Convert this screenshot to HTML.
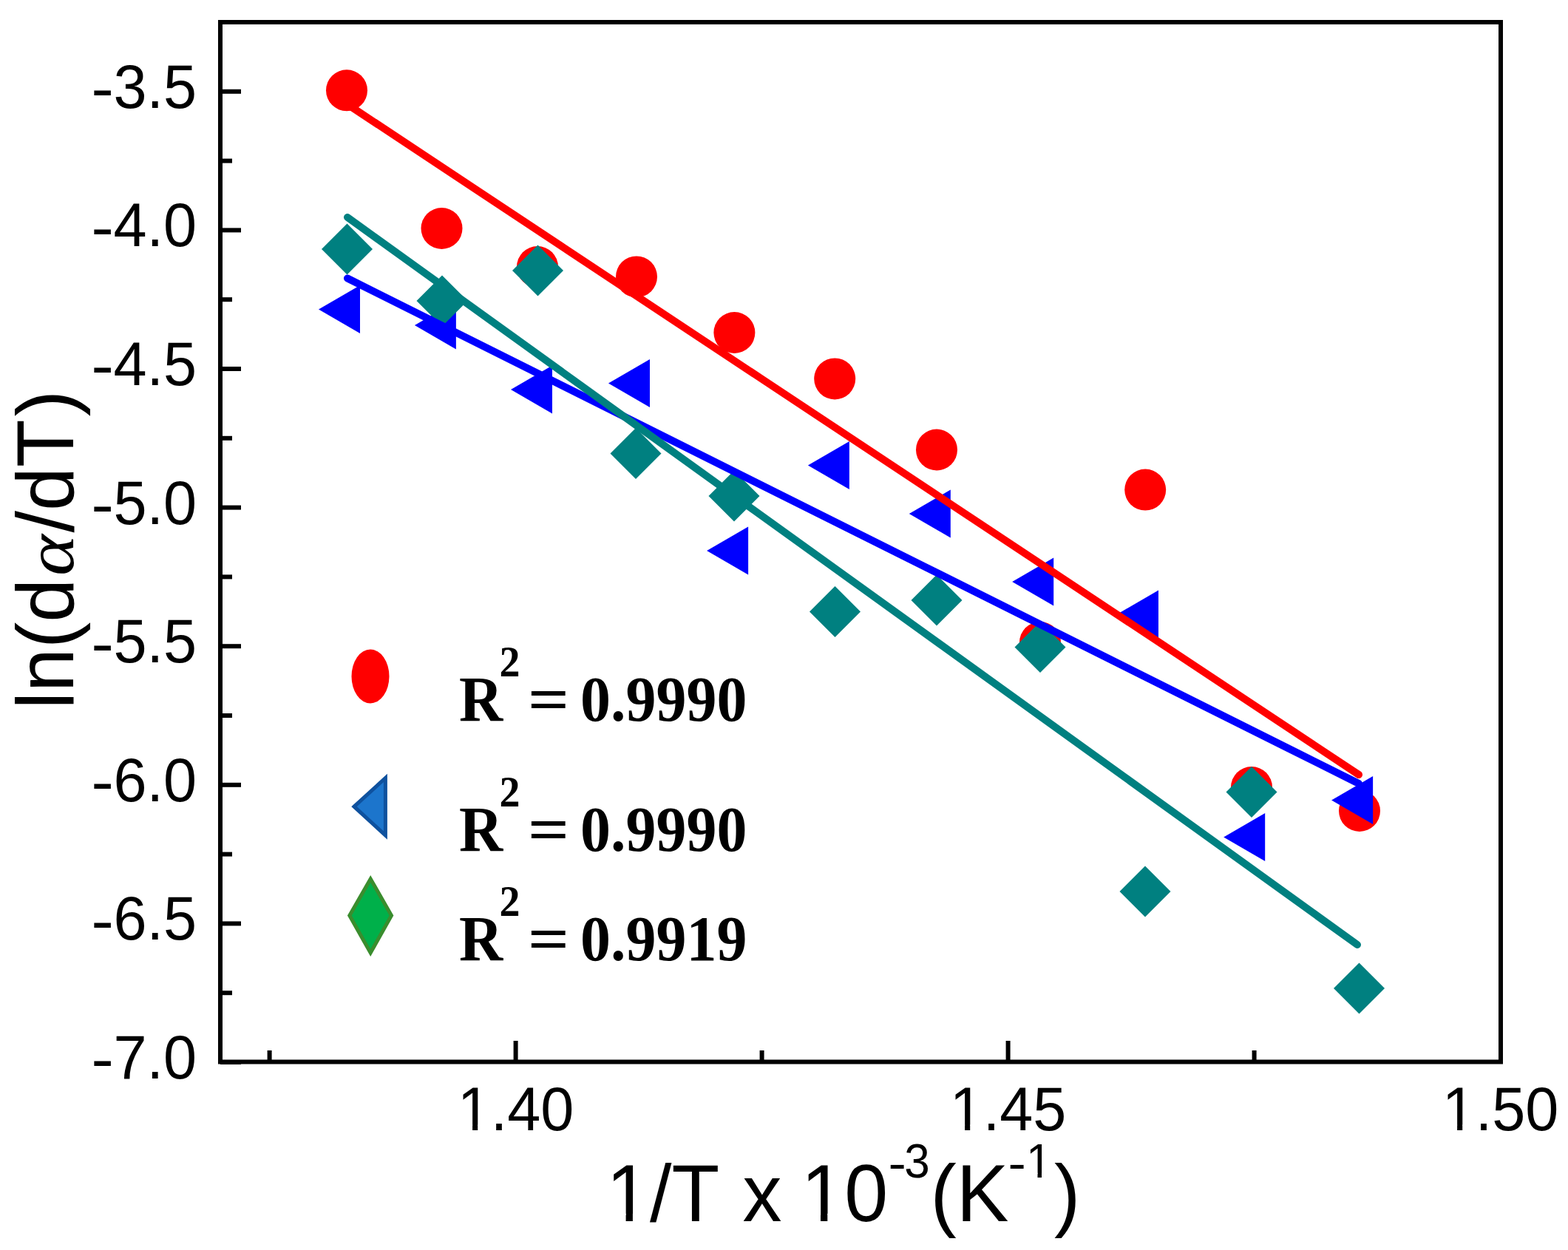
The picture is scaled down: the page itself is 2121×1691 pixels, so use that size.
<!DOCTYPE html><html><head><meta charset="utf-8"><title>ln(dα/dT) vs 1/T</title><style>
html,body{margin:0;padding:0;background:#fff;overflow:hidden;}svg{display:block;}
.s{font-family:"Liberation Sans",Arial,sans-serif;}
.b{font-family:"Liberation Serif","Times New Roman",serif;font-weight:bold;}
</style></head><body>
<svg width="2121" height="1691" viewBox="0 0 2121 1691">
<rect x="0" y="0" width="2121" height="1691" fill="#fff"/>
<g fill="#ff0000">
<circle cx="469" cy="122.3" r="28"/>
<circle cx="597.5" cy="309" r="28"/>
<circle cx="727" cy="361" r="28"/>
<circle cx="861" cy="374.4" r="28"/>
<circle cx="993.4" cy="450" r="28"/>
<circle cx="1129.2" cy="512.4" r="28"/>
<circle cx="1267" cy="608.5" r="28"/>
<circle cx="1407" cy="869" r="28"/>
<circle cx="1549.2" cy="662.6" r="28"/>
<circle cx="1693" cy="1065" r="28"/>
<circle cx="1839" cy="1097" r="28"/>
</g>
<g fill="#0000ff">
<polygon points="431.0,418.5 487.0,386.0 487.0,451.0"/>
<polygon points="560.9,440 616.9,407.5 616.9,472.5"/>
<polygon points="691.0,527 747.0,494.5 747.0,559.5"/>
<polygon points="823.0,518.5 879.0,486.0 879.0,551.0"/>
<polygon points="956.1,745 1012.1,712.5 1012.1,777.5"/>
<polygon points="1092.9,629.5 1148.9,597.0 1148.9,662.0"/>
<polygon points="1229.8,695 1285.8,662.5 1285.8,727.5"/>
<polygon points="1369.2,787 1425.2,754.5 1425.2,819.5"/>
<polygon points="1511.0,831 1567.0,798.5 1567.0,863.5"/>
<polygon points="1655.2,1132.5 1711.2,1100.0 1711.2,1165.0"/>
<polygon points="1801.1,1082.5 1857.1,1050.0 1857.1,1115.0"/>
</g>
<g fill="#008080">
<polygon points="469.5,302.5 504.0,337 469.5,371.5 435.0,337"/>
<polygon points="598,372.5 632.5,407 598,441.5 563.5,407"/>
<polygon points="727.5,331.5 762.0,366 727.5,400.5 693.0,366"/>
<polygon points="860,579.1 894.5,613.6 860,648.1 825.5,613.6"/>
<polygon points="993,636.5 1027.5,671 993,705.5 958.5,671"/>
<polygon points="1129.5,793.0 1164.0,827.5 1129.5,862.0 1095.0,827.5"/>
<polygon points="1267,777.5 1301.5,812 1267,846.5 1232.5,812"/>
<polygon points="1407,841.1 1441.5,875.6 1407,910.1 1372.5,875.6"/>
<polygon points="1549,1171.5 1583.5,1206 1549,1240.5 1514.5,1206"/>
<polygon points="1693,1037.0 1727.5,1071.5 1693,1106.0 1658.5,1071.5"/>
<polygon points="1838.5,1302.5 1873.0,1337 1838.5,1371.5 1804.0,1337"/>
</g>
<g fill="none" stroke-width="10" stroke-linecap="round">
<line x1="470" y1="376.5" x2="1838" y2="1060" stroke="#0000ff"/>
<line x1="469" y1="140.5" x2="1838" y2="1048" stroke="#ff0000"/>
<line x1="470" y1="294" x2="1836" y2="1278" stroke="#008080"/>
</g>
<g stroke="#000" stroke-width="6" fill="none">
<rect x="298" y="30" width="1732" height="1406.5"/>
<line x1="298" y1="123.8" x2="326" y2="123.8"/>
<line x1="298" y1="311.4" x2="326" y2="311.4"/>
<line x1="298" y1="499.0" x2="326" y2="499.0"/>
<line x1="298" y1="686.6" x2="326" y2="686.6"/>
<line x1="298" y1="874.2" x2="326" y2="874.2"/>
<line x1="298" y1="1061.8" x2="326" y2="1061.8"/>
<line x1="298" y1="1249.4" x2="326" y2="1249.4"/>
<line x1="298" y1="1437.0" x2="326" y2="1437.0"/>
<line x1="298" y1="217.6" x2="314" y2="217.6"/>
<line x1="298" y1="405.2" x2="314" y2="405.2"/>
<line x1="298" y1="592.8" x2="314" y2="592.8"/>
<line x1="298" y1="780.4" x2="314" y2="780.4"/>
<line x1="298" y1="968.0" x2="314" y2="968.0"/>
<line x1="298" y1="1155.6" x2="314" y2="1155.6"/>
<line x1="298" y1="1343.2" x2="314" y2="1343.2"/>
<line x1="697.6" y1="1436.5" x2="697.6" y2="1408"/>
<line x1="1363.6" y1="1436.5" x2="1363.6" y2="1408"/>
<line x1="364.6" y1="1436.5" x2="364.6" y2="1421"/>
<line x1="1030.6" y1="1436.5" x2="1030.6" y2="1421"/>
<line x1="1696.6" y1="1436.5" x2="1696.6" y2="1421"/>
</g>
<g class="s" font-size="81" fill="#000">
<text transform="translate(266,145.8) scale(1,1.04)" text-anchor="end">3.5</text>
<text transform="translate(123.3,148.1) scale(1.14,1.04)">-</text>
<text transform="translate(266,333.4) scale(1,1.04)" text-anchor="end">4.0</text>
<text transform="translate(123.3,335.7) scale(1.14,1.04)">-</text>
<text transform="translate(266,521.0) scale(1,1.04)" text-anchor="end">4.5</text>
<text transform="translate(123.3,523.3) scale(1.14,1.04)">-</text>
<text transform="translate(266,708.6) scale(1,1.04)" text-anchor="end">5.0</text>
<text transform="translate(123.3,710.9) scale(1.14,1.04)">-</text>
<text transform="translate(266,896.2) scale(1,1.04)" text-anchor="end">5.5</text>
<text transform="translate(123.3,898.5) scale(1.14,1.04)">-</text>
<text transform="translate(266,1083.8) scale(1,1.04)" text-anchor="end">6.0</text>
<text transform="translate(123.3,1086.1) scale(1.14,1.04)">-</text>
<text transform="translate(266,1271.4) scale(1,1.04)" text-anchor="end">6.5</text>
<text transform="translate(123.3,1273.7) scale(1.14,1.04)">-</text>
<text transform="translate(266,1459.0) scale(1,1.04)" text-anchor="end">7.0</text>
<text transform="translate(123.3,1461.3) scale(1.14,1.04)">-</text>
<text transform="translate(697.6,1529) scale(1,1.04)" text-anchor="middle">1.40</text>
<text transform="translate(1363.6,1529) scale(1,1.04)" text-anchor="middle">1.45</text>
<text transform="translate(2029.6,1529) scale(1,1.04)" text-anchor="middle">1.50</text>
</g>
<text class="s" font-size="106" transform="translate(820,1651.5) scale(1,1.04)" fill="#000">1/T</text>
<text class="s" font-size="106" transform="translate(1004.6,1651.5) scale(1,1.04)" fill="#000">x</text>
<text class="s" font-size="106" transform="translate(1083.4,1651.5) scale(1,1.04)" fill="#000">10</text>
<text class="s" font-size="62" transform="translate(1223.2,1592.5) scale(1,1.04)" fill="#000">3</text>
<text class="s" font-size="62" transform="translate(1201.5,1595.5) scale(1.18,1.04)" fill="#000">-</text>
<text class="s" font-size="106" transform="translate(1258.5,1651.5) scale(1,1.04)" fill="#000">(K</text>
<text class="s" font-size="62" transform="translate(1363.5,1595.5) scale(1.18,1.04)" fill="#000">-</text>
<text class="s" font-size="62" transform="translate(1388,1592.5) scale(1,1.04)" fill="#000">1</text>
<text class="s" font-size="106" transform="translate(1426,1651.5) scale(1,1.04)" fill="#000">)</text>
<text class="s" font-size="106" transform="translate(98.7,959.5) rotate(-90) scale(1,1.04)" fill="#000">ln(d</text>
<text font-family="Liberation Serif,serif" font-style="italic" font-size="106" transform="translate(98.7,779) rotate(-90) scale(1,0.87)" fill="#000">α</text>
<text class="s" font-size="106" transform="translate(98.7,720.5) rotate(-90) scale(1,1.04)" fill="#000">/dT<tspan dx="4">)</tspan></text>
<rect x="623.6" y="1521.6" width="15.5" height="9.4" fill="#fff"/>
<rect x="646.2" y="1521.6" width="14.6" height="9.4" fill="#fff"/>
<rect x="1289.6" y="1521.6" width="15.5" height="9.4" fill="#fff"/>
<rect x="1312.2" y="1521.6" width="14.6" height="9.4" fill="#fff"/>
<rect x="1955.6" y="1521.6" width="15.5" height="9.4" fill="#fff"/>
<rect x="1978.2" y="1521.6" width="14.6" height="9.4" fill="#fff"/>
<rect x="1089.8" y="1641.8" width="20.2" height="11.7" fill="#fff"/>
<rect x="1119.3" y="1641.8" width="19.1" height="11.7" fill="#fff"/>
<rect x="1391.7" y="1586.8" width="11.8" height="7.7" fill="#fff"/>
<rect x="1409.0" y="1586.8" width="11.2" height="7.7" fill="#fff"/>
<rect x="826.4" y="1641.8" width="20.2" height="11.7" fill="#fff"/>
<rect x="855.9" y="1641.8" width="19.1" height="11.7" fill="#fff"/>
<ellipse cx="501" cy="915" rx="25.5" ry="36.4" fill="#ff0000"/>
<polygon points="479,1091.2 521.4,1052.4 521.4,1130" fill="#1c75cc" stroke="#0e519e" stroke-width="5" stroke-linejoin="miter"/>
<polygon points="501.2,1189 529.5,1238.5 501.2,1289 472.8,1238.5" fill="#00b04a" stroke="#3a8d2e" stroke-width="5"/>
<text class="b" font-size="82" transform="translate(621,974.6) scale(1,1.055)" fill="#000">R</text>
<text class="b" font-size="56" transform="translate(675.5,914.8) scale(1,1.055)" fill="#000">2</text>
<text class="b" font-size="82" transform="translate(714,974.6) scale(1.2,1.055)" fill="#000">=</text>
<text class="b" font-size="82" transform="translate(785,974.6) scale(1,1.055)" fill="#000">0.9990</text>
<text class="b" font-size="82" transform="translate(621,1150.8) scale(1,1.055)" fill="#000">R</text>
<text class="b" font-size="56" transform="translate(675.5,1091.0) scale(1,1.055)" fill="#000">2</text>
<text class="b" font-size="82" transform="translate(714,1150.8) scale(1.2,1.055)" fill="#000">=</text>
<text class="b" font-size="82" transform="translate(785,1150.8) scale(1,1.055)" fill="#000">0.9990</text>
<text class="b" font-size="82" transform="translate(621,1298.5) scale(1,1.055)" fill="#000">R</text>
<text class="b" font-size="56" transform="translate(675.5,1238.7) scale(1,1.055)" fill="#000">2</text>
<text class="b" font-size="82" transform="translate(714,1298.5) scale(1.2,1.055)" fill="#000">=</text>
<text class="b" font-size="82" transform="translate(785,1298.5) scale(1,1.055)" fill="#000">0.9919</text>
</svg></body></html>
